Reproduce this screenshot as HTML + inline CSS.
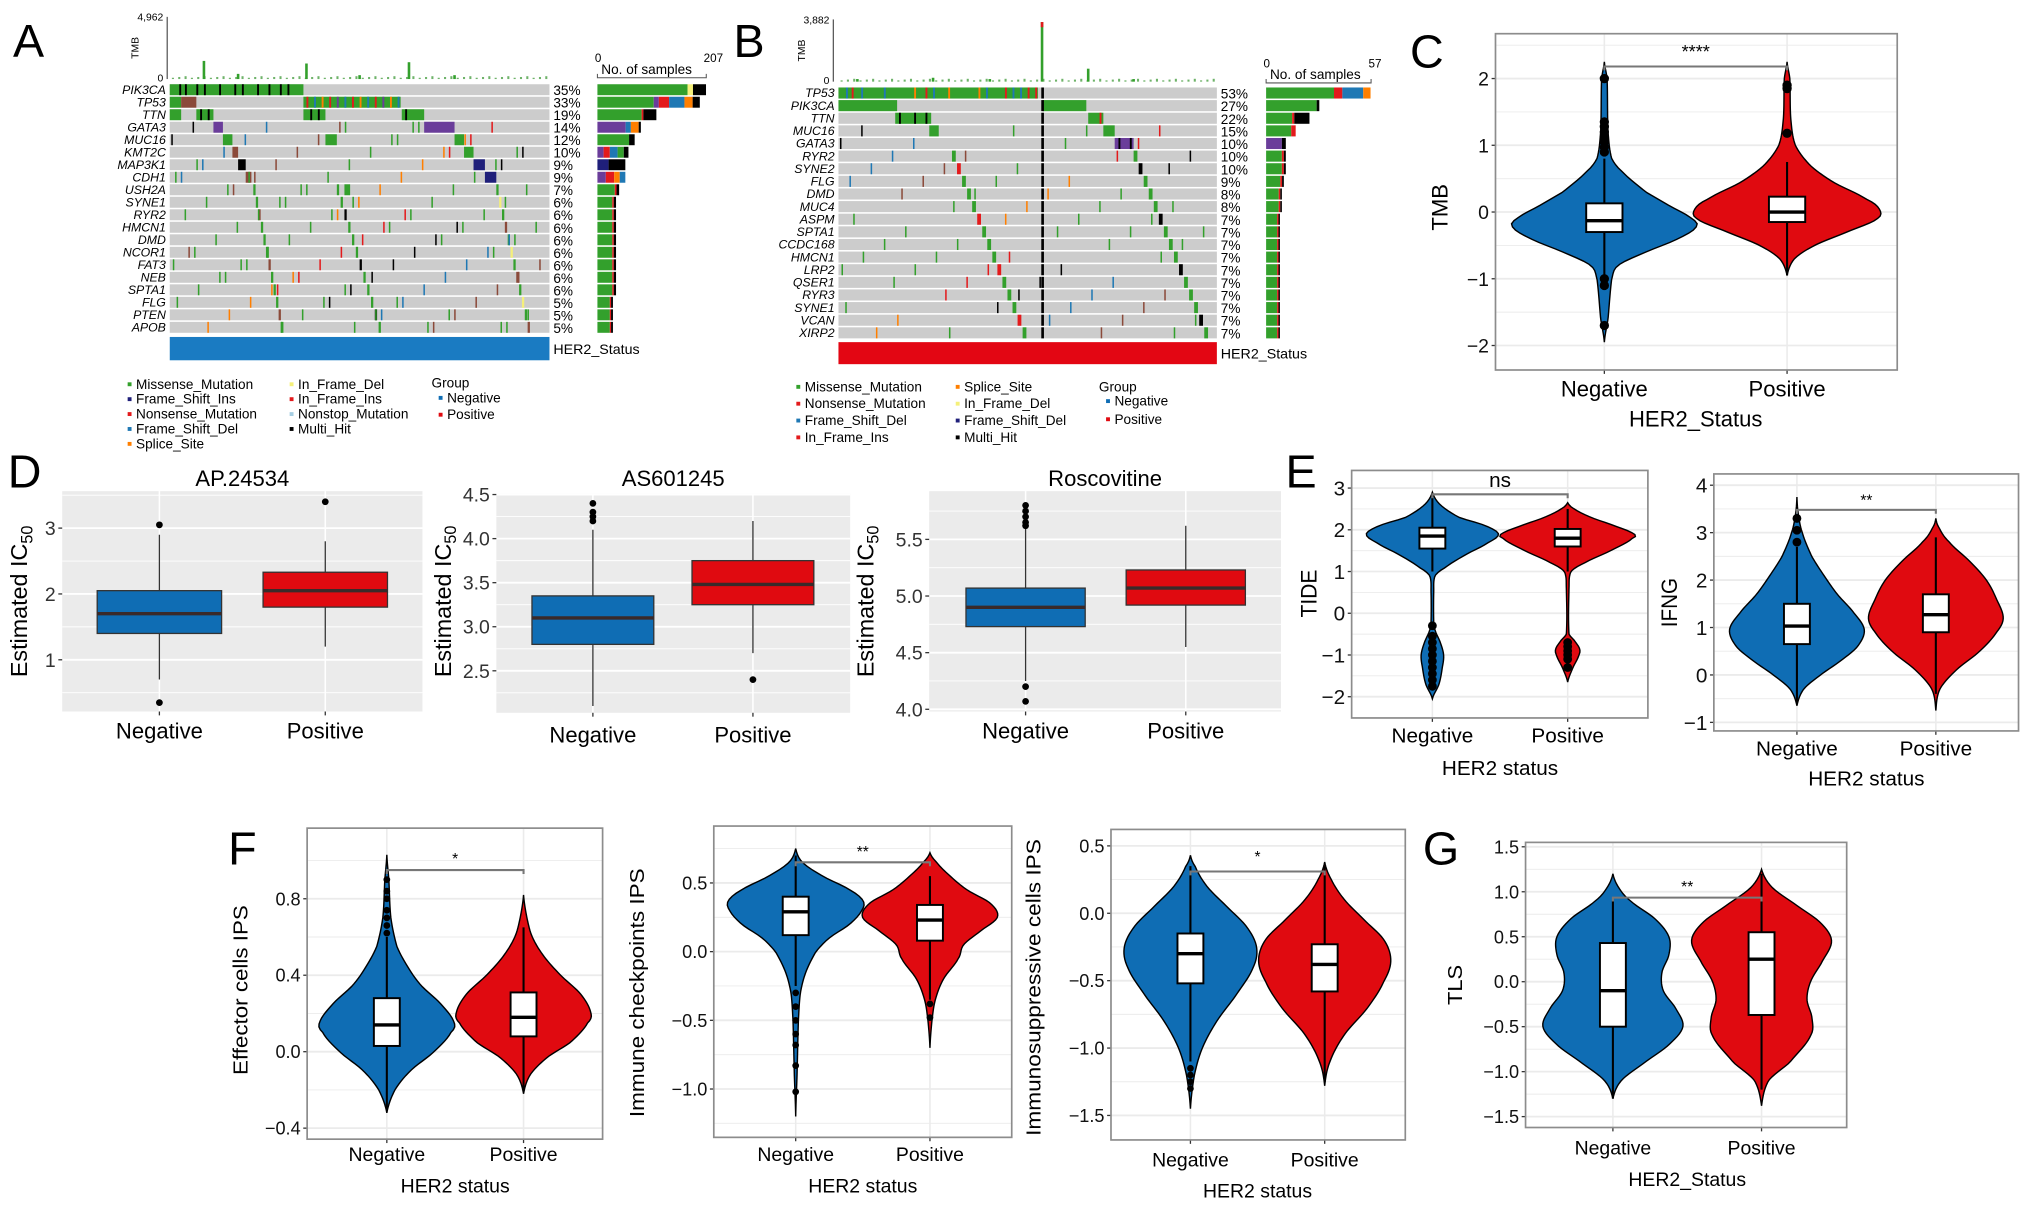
<!DOCTYPE html>
<html><head><meta charset="utf-8"><title>HER2 figure</title>
<style>
html,body{margin:0;padding:0;background:#fff;}
svg{display:block;font-family:"Liberation Sans",Arial,sans-serif;}
</style></head>
<body>
<svg id="fig" width="2032" height="1212" viewBox="0 0 1568 935.2" preserveAspectRatio="none" xmlns="http://www.w3.org/2000/svg"></svg>
<script>
// ---------- DATA ----------
const groups = ["Negative","Positive"];
// Panel A oncoplot
const aGenes = ["PIK3CA","TP53","TTN","GATA3","MUC16","KMT2C","MAP3K1","CDH1","USH2A","SYNE1","RYR2","HMCN1","DMD","NCOR1","FAT3","NEB","SPTA1","FLG","PTEN","APOB"];
const aPct = [35,33,19,14,12,10,9,9,7,6,6,6,6,6,6,6,6,5,5,5];
const aMaxSamples = 207;
const aTmbSpikes = [[0.09,14],[0.36,12],[0.63,13],[0.18,4],[0.5,3],[0.75,3]];
// Panel B oncoplot
const bGenes = ["TP53","PIK3CA","TTN","MUC16","GATA3","RYR2","SYNE2","FLG","DMD","MUC4","ASPM","SPTA1","CCDC168","HMCN1","LRP2","QSER1","RYR3","SYNE1","VCAN","XIRP2"];
const bPct = [53,27,22,15,10,10,10,9,8,8,7,7,7,7,7,7,7,7,7,7];
const bMaxSamples = 57;
const bTmbSpikes = [[0.538,46],[0.66,10],[0.05,2],[0.25,3],[0.4,2],[0.78,2]];
// Panel C TMB
const cNegDens = [[-1.95,0],[-1.6,0.04],[-1.0,0.08],[-0.8,0.15],[-0.6,0.45],[-0.4,0.8],[-0.22,1.0],[-0.1,0.95],[0.1,0.7],[0.3,0.45],[0.6,0.2],[0.8,0.08],[1.2,0.04],[2.0,0.03],[2.25,0]];
const cPosDens = [[-0.95,0],[-0.7,0.08],[-0.5,0.3],[-0.3,0.65],[-0.1,0.98],[0.05,1.0],[0.2,0.85],[0.45,0.5],[0.7,0.25],[1.0,0.09],[1.4,0.04],[2.0,0.03],[2.25,0]];
const cNegBox = [-1.0,-0.3,-0.13,0.13,0.8];
const cPosBox = [-0.95,-0.15,0.0,0.23,0.75];
const cNegOut = [2.0,1.35,1.28,1.2,1.12,1.05,0.97,0.9,-1.0,-1.1,-1.7];
const cPosOut = [1.9,1.85,1.18];
const cTicks = [-2,-1,0,1,2];
// Panel D boxplots: [lowWhisker,q1,median,q3,highWhisker]
const d1Neg = [0.7,1.4,1.7,2.05,2.9], d1Pos = [1.2,1.8,2.05,2.33,2.8];
const d1NegOut = [3.05,0.35], d1PosOut = [3.4];
const d1Ticks = [1,2,3];
const d2Neg = [2.1,2.8,3.1,3.35,4.1], d2Pos = [2.7,3.25,3.48,3.75,4.2];
const d2NegOut = [4.2,4.25,4.3,4.4], d2PosOut = [2.4];
const d2Ticks = [2.5,3.0,3.5,4.0,4.5];
const d3Neg = [4.25,4.73,4.9,5.07,5.6], d3Pos = [4.55,4.92,5.07,5.23,5.62];
const d3NegOut = [5.62,5.65,5.7,5.75,5.8,4.2,4.07], d3PosOut = [];
const d3Ticks = [4.0,4.5,5.0,5.5];
// Panel E TIDE / IFNG
const e1NegDens = [[-2.05,0],[-1.7,0.1],[-1.3,0.15],[-1.0,0.17],[-0.7,0.12],[-0.4,0.04],[-0.2,0.02],[0.5,0.02],[0.9,0.04],[1.1,0.2],[1.4,0.5],[1.7,0.85],[1.9,1.0],[2.1,0.8],[2.3,0.4],[2.6,0.12],[2.9,0]];
const e1PosDens = [[-1.65,0],[-1.3,0.08],[-1.0,0.17],[-0.85,0.18],[-0.65,0.1],[-0.5,0.02],[0.6,0.02],[1.0,0.05],[1.2,0.25],[1.5,0.65],[1.8,0.98],[1.9,1.0],[2.1,0.7],[2.3,0.35],[2.5,0.1],[2.65,0]];
const e1NegBox = [1.0,1.55,1.85,2.05,2.8], e1PosBox = [1.0,1.6,1.8,2.02,2.5];
const e1NegOut = [-0.3,-0.55,-0.7,-0.85,-1.0,-1.15,-1.3,-1.45,-1.6,-1.75];
const e1PosOut = [-0.7,-0.8,-0.9,-1.0,-1.1,-1.3];
const e1Ticks = [-2,-1,0,1,2,3];
const e2NegDens = [[-0.65,0],[-0.3,0.1],[0.0,0.35],[0.3,0.65],[0.6,0.9],[0.95,1.0],[1.3,0.85],[1.7,0.6],[2.1,0.4],[2.5,0.22],[3.0,0.08],[3.4,0.02],[3.75,0]];
const e2PosDens = [[-0.75,0],[-0.3,0.06],[0.1,0.3],[0.5,0.65],[0.9,0.9],[1.2,1.0],[1.6,0.9],[2.0,0.75],[2.4,0.5],[2.8,0.2],[3.1,0.05],[3.3,0]];
const e2NegBox = [-0.6,0.65,1.03,1.5,2.7], e2PosBox = [-0.4,0.9,1.27,1.7,2.9];
const e2NegOut = [2.8,3.05,3.3], e2PosOut = [];
const e2Ticks = [-1,0,1,2,3,4];
// Panel F IPS
const f1NegDens = [[-0.32,0],[-0.2,0.12],[-0.1,0.35],[0.0,0.7],[0.1,0.95],[0.15,1.0],[0.25,0.8],[0.35,0.5],[0.45,0.3],[0.55,0.15],[0.7,0.06],[0.9,0.03],[1.03,0]];
const f1PosDens = [[-0.22,0],[-0.12,0.1],[-0.03,0.35],[0.05,0.7],[0.15,0.95],[0.2,1.0],[0.3,0.85],[0.4,0.55],[0.5,0.3],[0.6,0.13],[0.7,0.05],[0.82,0]];
const f1NegBox = [-0.3,0.03,0.14,0.28,0.6], f1PosBox = [-0.2,0.08,0.18,0.31,0.65];
const f1NegOut = [0.62,0.66,0.7,0.74,0.8,0.84,0.9], f1PosOut = [];
const f1Ticks = [-0.4,0.0,0.4,0.8];
const f2NegDens = [[-1.2,0],[-0.9,0.02],[-0.5,0.04],[-0.3,0.07],[-0.15,0.15],[0.0,0.3],[0.1,0.5],[0.2,0.8],[0.3,0.98],[0.37,1.0],[0.45,0.8],[0.55,0.4],[0.65,0.1],[0.75,0]];
const f2PosDens = [[-0.7,0],[-0.5,0.03],[-0.35,0.08],[-0.2,0.2],[-0.05,0.42],[0.05,0.5],[0.15,0.75],[0.25,1.0],[0.35,0.9],[0.45,0.55],[0.55,0.3],[0.65,0.1],[0.72,0]];
const f2NegBox = [-0.25,0.12,0.29,0.4,0.7], f2PosBox = [-0.35,0.08,0.23,0.34,0.55];
const f2NegOut = [-0.3,-0.4,-0.5,-0.6,-0.68,-0.83,-1.02], f2PosOut = [-0.38,-0.48];
const f2Ticks = [-1.0,-0.5,0.0,0.5];
const f3NegDens = [[-1.45,0],[-1.2,0.06],[-1.0,0.18],[-0.8,0.4],[-0.6,0.7],[-0.4,0.95],[-0.25,1.0],[-0.1,0.85],[0.05,0.55],[0.2,0.25],[0.35,0.07],[0.43,0]];
const f3PosDens = [[-1.28,0],[-1.1,0.08],[-0.9,0.3],[-0.7,0.65],[-0.5,0.9],[-0.35,1.0],[-0.2,0.9],[-0.05,0.6],[0.1,0.3],[0.25,0.1],[0.38,0]];
const f3NegBox = [-1.1,-0.52,-0.3,-0.15,0.35], f3PosBox = [-1.25,-0.58,-0.38,-0.23,0.35];
const f3NegOut = [-1.15,-1.2,-1.25,-1.3], f3PosOut = [];
const f3Ticks = [-1.5,-1.0,-0.5,0.0,0.5];
// Panel G TLS
const gNegDens = [[-1.3,0],[-1.1,0.12],[-0.9,0.45],[-0.7,0.8],[-0.5,1.0],[-0.3,0.9],[-0.1,0.72],[0.1,0.7],[0.3,0.8],[0.5,0.8],[0.7,0.6],[0.9,0.25],[1.05,0.08],[1.2,0]];
const gPosDens = [[-1.38,0],[-1.1,0.1],[-0.9,0.4],[-0.6,0.7],[-0.4,0.72],[-0.2,0.65],[0.0,0.7],[0.2,0.85],[0.45,1.0],[0.65,0.85],[0.85,0.5],[1.05,0.15],[1.25,0]];
const gNegBox = [-1.3,-0.5,-0.1,0.43,0.9], gPosBox = [-1.2,-0.37,0.25,0.55,1.2];
const gTicks = [-1.5,-1.0,-0.5,0.0,0.5,1.0,1.5];

// ---------- HELPERS ----------
const NS = "http://www.w3.org/2000/svg";
const svg = document.getElementById("fig");
const BLUE = "#0f6db4", RED = "#e00a10";
const MC = {g:"#33a02c",r:"#e31a1c",b:"#1f78b4",o:"#ff7f00",p:"#6a3d9a",k:"#000000",y:"#f5f07a",n:"#1f1f7a",l:"#a6cee3",w:"#8b4a3a"};
function el(tag, attrs, parent){
  const e = document.createElementNS(NS, tag);
  for (const k in attrs) e.setAttribute(k, attrs[k]);
  (parent || svg).appendChild(e);
  return e;
}
function txt(s, x, y, size, parent, extra){
  const a = {x:x, y:y, "font-size":size, fill:"#000"};
  if (extra) for (const k in extra) a[k] = extra[k];
  const t = el("text", a, parent);
  t.textContent = s;
  return t;
}
function fmt(v, dec){ const s = v.toFixed(dec); return v < 0 ? "\u2212" + s.slice(1) : s; }

// density interpolation (Catmull-Rom on knots)
function densAt(knots, v){
  for (let i = 0; i < knots.length - 1; i++){
    const a = knots[i], b = knots[i+1];
    if (v >= a[0] && v <= b[0]){
      const p0 = knots[Math.max(0,i-1)][1], p1 = a[1], p2 = b[1], p3 = knots[Math.min(knots.length-1,i+2)][1];
      const t = (v - a[0]) / (b[0] - a[0]);
      const r = 0.5*((2*p1)+(-p0+p2)*t+(2*p0-5*p1+4*p2-p3)*t*t+(-p0+3*p1-3*p2+p3)*t*t*t);
      return Math.max(0, r);
    }
  }
  return 0;
}

// ---------- VIOLIN / BOX PANEL ----------
function panel(cfg){
  const g = el("g", {});
  
  
  const [x0,y0,x1,y1] = cfg.frame;
  const Y = v => cfg.zeroY - (v - cfg.zeroV) * cfg.unit;
  const X = i => cfg.xs[i];
  const bg = el("rect", {x:x0, y:y0, width:x1-x0, height:y1-y0, fill: cfg.gray ? "#ebebeb" : "#fff"}, g);
  
  
  const gridCol = cfg.gray ? "#fff" : "#ebebeb";
  const ticks = cfg.ticks;
  const step = ticks[1] - ticks[0];
  for (let k = -1; k < ticks.length; k++){
    const mv = (k < 0 ? ticks[0] : ticks[k]) + (k < 0 ? -step/2 : step/2);
    const my = Y(mv);
    if (my > y0 && my < y1){
      const ml = el("line", {x1:x0, x2:x1, y1:my, y2:my, stroke:gridCol, "stroke-width":0.7}, g);
      
      
    }
  }
  ticks.forEach(t => {
    const ty = Y(t);
    const gl = el("line", {x1:x0, x2:x1, y1:ty, y2:ty, stroke:gridCol, "stroke-width":1.4}, g);
    
    
    const tk = el("line", {x1:x0-3, x2:x0, y1:ty, y2:ty, stroke:"#333", "stroke-width":1}, g);
    
    
    const tl = txt(fmt(t, cfg.dec), x0-5, ty + cfg.tickSize*0.36, cfg.tickSize, g, {"text-anchor":"end", fill: cfg.gray ? "#333" : "#111"});
    
    
  });
  groups.forEach((gname, i) => {
    const vl = el("line", {x1:X(i), x2:X(i), y1:y0, y2:y1, stroke:gridCol, "stroke-width":1.2}, g);
    
    
    const tk = el("line", {x1:X(i), x2:X(i), y1:y1, y2:y1+3, stroke:"#333", "stroke-width":1}, g);
    
    
    const xl = txt(gname, X(i), cfg.xLabY, cfg.labSize, g, {"text-anchor":"middle"});
    
    
  });
  if (!cfg.gray){
    const fr = el("rect", {x:x0, y:y0, width:x1-x0, height:y1-y0, fill:"none", stroke:"#8c8c8c", "stroke-width":1.3}, g);
    
    
  }
  const cols = [BLUE, RED];
  cfg.series.forEach((s, i) => {
    const cx = X(i);
    const sg = el("g", {}, g);
    
    
    if (s.dens){
      const lo = s.dens[0][0], hi = s.dens[s.dens.length-1][0];
      const N = 90, right = [], left = [];
      for (let k = 0; k <= N; k++){
        const v = lo + (hi - lo) * k / N;
        const w = densAt(s.dens, v) * cfg.maxHW;
        right.push([cx + w, Y(v)]);
        left.push([cx - w, Y(v)]);
      }
      const pts = right.concat(left.reverse());
      const d = "M" + pts.map(p => p[0].toFixed(2) + "," + p[1].toFixed(2)).join("L") + "Z";
      const vp = el("path", {d:d, fill:cols[i], stroke:"#000", "stroke-width":1.1}, sg);
      
      
    }
    const b = s.box;
    const wl = el("line", {x1:cx, x2:cx, y1:Y(b[0]), y2:Y(b[4]), stroke: cfg.gray ? "#333" : "#000", "stroke-width": cfg.gray ? 1 : 1.6}, sg);
    
    
    const bx = el("rect", {x:cx-cfg.boxHW, y:Y(b[3]), width:2*cfg.boxHW, height:Y(b[1])-Y(b[3]), fill: cfg.gray ? cols[i] : "#fff", stroke: cfg.gray ? "#333" : "#000", "stroke-width": cfg.gray ? 1 : 1.5}, sg);
    
    
    const md = el("line", {x1:cx-cfg.boxHW, x2:cx+cfg.boxHW, y1:Y(b[2]), y2:Y(b[2]), stroke: cfg.gray ? "#3a2a2a" : "#000", "stroke-width": 2.6}, sg);
    
    
    (s.out || []).forEach(v => {
      const c = el("circle", {cx:cx, cy:Y(v), r:cfg.dotR, fill:"#000"}, sg);
      
      
    });
  });
  if (cfg.sig){
    const by = Y(cfg.sig[0]);
    const br = el("path", {d:`M${X(0)},${by+3}L${X(0)},${by}L${X(1)},${by}L${X(1)},${by+3}`, fill:"none", stroke:"#777", "stroke-width":1.6}, g);
    
    
    const st = txt(cfg.sig[2], (X(0)+X(1))/2, Y(cfg.sig[1]) + cfg.sig[3]*0.35, cfg.sig[3], g, {"text-anchor":"middle"});
    
    
  }
  if (cfg.title){
    const tt = txt(cfg.title, (x0+x1)/2, cfg.titleY, 17, g, {"text-anchor":"middle"});
    
    
  }
  if (cfg.xTitle){
    const xt = txt(cfg.xTitle, (X(0)+X(1))/2, cfg.xTitleY, cfg.labSize, g, {"text-anchor":"middle"});
    
    
  }
  const yt = el("text", {x:0, y:0, "font-size":cfg.yTitleSize, "text-anchor":"middle", transform:`translate(${cfg.yTitle[1]},${cfg.yTitle[2]}) rotate(-90)`, textLength:cfg.yTitle[3], lengthAdjust:"spacingAndGlyphs"}, g);
  
  
  if (cfg.ic50){
    yt.removeAttribute("textLength");
    yt.textContent = "Estimated IC";
    const sub = el("tspan", {"font-size":cfg.yTitleSize*0.7, dy:4}, yt);
    sub.textContent = "50";
  } else {
    yt.textContent = cfg.yTitle[0];
  }
  return g;
}

// ---------- ONCOPLOT ----------
function oncoplot(cfg){
  const g = el("g", {});
  
  
  const gx0 = cfg.gx0, gw = cfg.gw, top = cfg.top, pitch = cfg.pitch, rh = pitch - 1.2;
  const FX = f => gx0 + f * gw;
  // TMB axis
  const ax = el("line", {x1:cfg.axX, x2:cfg.axX, y1:cfg.axTop, y2:cfg.axBot, stroke:"#333", "stroke-width":0.8}, g);
  
  
  const tm = txt(cfg.tmbMax, cfg.axX-3, cfg.axTop+3, 8, g, {"text-anchor":"end"});
  
  
  const tz = txt("0", cfg.axX-3, cfg.axBot+2, 8, g, {"text-anchor":"end"});
  
  
  const tl = txt("TMB", 0, 0, 8, g, {"text-anchor":"middle", transform:`translate(${cfg.axX-22},${(cfg.axTop+cfg.axBot)/2}) rotate(-90)`});
  
  
  for (let k = 0; k < 60; k++){
    const f = (k + 0.5) / 60, h = 1 + ((k * 7) % 3) * 0.6;
    const tb = el("rect", {x:FX(f)-0.8, y:cfg.axBot-h, width:1.6, height:h, fill:"#6fb36a"}, g);
    
    
  }
  cfg.spikes.forEach(s => {
    const sp = el("rect", {x:FX(s[0])-1, y:cfg.axBot-s[1], width:2, height:s[1], fill:MC.g}, g);
    
    
  });
  if (cfg.redTop){
    const s = cfg.spikes[0];
    const rt = el("rect", {x:FX(s[0])-1, y:cfg.axBot-s[1], width:2, height:4, fill:MC.r}, g);
    
    
  }
  // grid rows
  cfg.genes.forEach((gene, i) => {
    const ry = top + i * pitch;
    const row = el("rect", {x:gx0, y:ry, width:gw, height:rh, fill:"#cccccc"}, g);
    
    
    const gl = txt(gene, gx0-3, ry + rh - 1, 9.5, g, {"text-anchor":"end", "font-style":"italic"});
    
    
    const pl = txt(cfg.pct[i] + "%", gx0 + gw + 3, ry + rh, 10.5, g, {});
    
    
    // side bar
    const count = cfg.pct[i] / 100 * cfg.nSamples;
    const len = count / cfg.maxS * cfg.barW;
    const segs = cfg.barSegs[i] || cfg.barSegs.default;
    let bx = cfg.barX;
    segs.forEach(sg => {
      const w = sg[1] * len;
      const r = el("rect", {x:bx, y:ry, width:w, height:rh, fill:MC[sg[0]]}, g);
      
      
      bx += w;
    });
  });
  const cell = (gi, f0, f1, c, nm) => {
    const r = el("rect", {x:FX(f0), y:top + gi*pitch, width:Math.max(0.9, (f1-f0)*gw), height:rh, fill:MC[c]}, g);
    
    
  };
  cfg.blocks.forEach(b => cell(b[0], b[1], b[2], b[3], "mutation-block"));
  (cfg.multi || []).forEach(s => cell(s[0], s[1], s[1] + 0.005, s[2], "mutation-stripe"));
  // waterfall stripes for lower genes
  cfg.falls.forEach(fl => {
    const n = cfg.genes.length - fl.start;
    for (let gi = fl.start; gi < cfg.genes.length; gi++){
      const f = fl.f0 + (fl.f1 - fl.f0) * (gi - fl.start) / n;
      cell(gi, f, f + fl.w, fl.c[gi % fl.c.length], "mutation-stripe");
    }
  });
  // scattered thin stripes
  for (let gi = cfg.scatterFrom; gi < cfg.genes.length; gi++){
    for (let k = 0; k < cfg.scatterN; k++){
      const f = ((gi * 0.137 + k * 0.193 + 0.05) % 0.98);
      const c = "gggggrkbwgo"[(gi + k) % 11];
      cell(gi, f, f + 0.004, c, "mutation-stripe");
    }
  }
  if (cfg.blackCol !== undefined){
    cfg.genes.forEach((gene, gi) => cell(gi, cfg.blackCol, cfg.blackCol + 0.007, "k", "mutation-stripe"));
  }
  // HER2 status bar
  const hb = el("rect", {x:gx0, y:cfg.herY, width:gw, height:cfg.herH, fill:cfg.herColor}, g);
  
  
  const hl = txt("HER2_Status", gx0 + gw + 3, cfg.herY + cfg.herH/2 + 4, 11, g, {});
  
  
  // bar axis
  const ba = el("path", {d:`M${cfg.barX},${cfg.bracketY-3}L${cfg.barX},${cfg.bracketY}L${cfg.barX+cfg.barW},${cfg.bracketY}L${cfg.barX+cfg.barW},${cfg.bracketY-3}`, fill:"none", stroke:"#555", "stroke-width":0.8}, g);
  
  
  const z = txt("0", cfg.barX-2, cfg.bracketY-12, 9, g, {});
  
  
  const mx = txt(String(cfg.maxS), cfg.barX+cfg.barW-2, cfg.bracketY-12, 9, g, {});
  
  
  const ns = txt("No. of samples", cfg.barX+3, cfg.bracketY-3, 10.5, g, {});
  
  
  // legend
  cfg.legend.forEach(it => {
    if (it[3]){
      const d = el("rect", {x:it[1]-1.5, y:it[2]-5, width:3, height:3, fill:it[3]}, g);
      
      
    }
    const t = txt(it[0], it[1] + (it[3] ? 5 : 0), it[2], 10.5, g, {});
    
    
  });
}

// ---------- BUILD ----------
function letter(s, x, y){
  const t = txt(s, x, y, 36, svg, {});
  
  
}
letter("A", 10, 44); letter("B", 566, 44); letter("C", 1088, 52);
letter("D", 6, 376); letter("E", 992, 376); letter("F", 176, 667); letter("G", 1098, 667);

oncoplot({name:"panel-a-oncoplot", gx0:131, gw:293, top:65, pitch:9.65, axX:129, axTop:13, axBot:61, tmbMax:"4,962",
  spikes:aTmbSpikes, genes:aGenes, pct:aPct, nSamples:590, maxS:aMaxSamples, barX:461, barW:84, bracketY:60,
  barSegs:{0:[["g",.83],["y",.05],["k",.12]],1:[["g",.55],["p",.05],["r",.1],["b",.15],["o",.08],["k",.07]],2:[["g",.75],["r",.03],["k",.22]],3:[["p",.65],["b",.12],["o",.18],["k",.05]],4:[["g",.85],["k",.15]],5:[["p",.2],["r",.2],["b",.25],["g",.2],["k",.15]],6:[["n",.4],["k",.6]],7:[["p",.3],["r",.3],["o",.2],["b",.2]],default:[["g",.8],["r",.08],["k",.12]]},
  blocks:[[0,0,0.352,"g"],[1,0,0.03,"g"],[1,0.03,0.07,"w"],[1,0.352,0.608,"g"],[2,0,0.03,"g"],[2,0.07,0.115,"g"],[2,0.352,0.41,"g"],[2,0.611,0.67,"g"],
    [3,0.115,0.14,"p"],[3,0.67,0.75,"p"],[4,0.14,0.165,"g"],[4,0.41,0.44,"g"],[4,0.75,0.775,"g"],[5,0.165,0.18,"w"],[5,0.775,0.8,"g"],
    [6,0.18,0.2,"k"],[6,0.8,0.83,"n"],[7,0.2,0.215,"w"],[7,0.83,0.86,"n"],[8,0.46,0.475,"g"]],
  multi:[[0,0.025,"k"],[0,0.04,"k"],[0,0.07,"k"],[0,0.09,"k"],[0,0.13,"k"],[0,0.17,"k"],[0,0.19,"k"],[0,0.23,"k"],[0,0.26,"k"],[0,0.29,"k"],[0,0.31,"k"],
    [1,0.36,"r"],[1,0.38,"b"],[1,0.40,"o"],[1,0.42,"r"],[1,0.44,"p"],[1,0.46,"b"],[1,0.48,"r"],[1,0.50,"o"],[1,0.52,"b"],[1,0.54,"r"],[1,0.56,"p"],[1,0.58,"o"],[1,0.60,"b"],
    [2,0.08,"k"],[2,0.1,"k"],[2,0.37,"k"],[2,0.39,"k"],[2,0.62,"k"]],
  falls:[{start:8,f0:0.22,f1:0.30,w:0.006,c:["g","g","w","g"]},{start:8,f0:0.44,f1:0.56,w:0.006,c:["g","g","k","g"]},{start:8,f0:0.86,f1:0.95,w:0.006,c:["g","y","g","w"]}],
  scatterFrom:3, scatterN:7,
  herY:260, herH:18, herColor:"#1a7bc2",
  legend:[["Missense_Mutation",100,300,MC.g],["Frame_Shift_Ins",100,311.5,MC.n],["Nonsense_Mutation",100,323,MC.r],["Frame_Shift_Del",100,334.5,MC.b],["Splice_Site",100,346,MC.o],
    ["In_Frame_Del",225,300,MC.y],["In_Frame_Ins",225,311.5,MC.r],["Nonstop_Mutation",225,323,MC.l],["Multi_Hit",225,334.5,MC.k],
    ["Group",333,299,null],["Negative",340,310.5,BLUE],["Positive",340,323.5,RED]]
});

oncoplot({name:"panel-b-oncoplot", gx0:647, gw:292, top:67.5, pitch:9.74, axX:643, axTop:15, axBot:63, tmbMax:"3,882",
  spikes:bTmbSpikes, redTop:true, genes:bGenes, pct:bPct, nSamples:107, maxS:bMaxSamples, barX:977, barW:81, bracketY:64,
  barSegs:{0:[["g",.65],["r",.08],["b",.2],["o",.07]],1:[["g",.95],["k",.05]],2:[["g",.6],["r",.05],["k",.35]],3:[["g",.85],["r",.15]],4:[["p",.8],["k",.2]],default:[["g",.8],["r",.1],["k",.1]]},
  blocks:[[0,0,0.527,"g"],[1,0,0.155,"g"],[1,0.54,0.655,"g"],[2,0.15,0.245,"g"],[2,0.66,0.70,"g"],[3,0.24,0.265,"g"],[3,0.70,0.73,"g"],[4,0.73,0.78,"p"]],
  multi:[[0,0.02,"b"],[0,0.035,"r"],[0,0.06,"b"],[0,0.12,"b"],[0,0.2,"o"],[0,0.23,"r"],[0,0.25,"b"],[0,0.29,"o"],[0,0.37,"o"],[0,0.39,"b"],[0,0.44,"r"],[0,0.46,"b"],[0,0.48,"b"],[0,0.5,"r"],[0,0.52,"r"],
    [2,0.16,"k"],[2,0.2,"k"],[2,0.23,"k"],[2,0.69,"r"],[4,0.74,"k"],[4,0.77,"k"]],
  falls:[{start:5,f0:0.30,f1:0.50,w:0.01,c:["g","g","r","g"]},{start:5,f0:0.78,f1:0.98,w:0.01,c:["g","g","k","g"]}],
  scatterFrom:3, scatterN:4, blackCol:0.536,
  herY:264, herH:17, herColor:"#e30613",
  legend:[["Missense_Mutation",616,302,MC.g],["Nonsense_Mutation",616,315,MC.r],["Frame_Shift_Del",616,328,MC.b],["In_Frame_Ins",616,341,MC.r],
    ["Splice_Site",739,302,MC.o],["In_Frame_Del",739,315,MC.y],["Frame_Shift_Del",739,328,MC.n],["Multi_Hit",739,341,MC.k],
    ["Group",848,302,null],["Negative",855,313,BLUE],["Positive",855,327,RED]]
});

// Panel C
panel({name:"panel-c-tmb-violin", frame:[1154,26,1464,285.5], zeroV:0, zeroY:163.6, unit:51.5, ticks:cTicks, dec:0, tickSize:15,
  xs:[1238,1379], maxHW:71, boxHW:14, dotR:3.6, labSize:17, xLabY:306, xTitle:"HER2_Status", xTitleY:329,
  yTitle:["TMB",1117,160,36], yTitleSize:17, sig:[2.18,2.4,"****",14],
  series:[{dens:cNegDens, box:cNegBox, out:cNegOut},{dens:cPosDens, box:cPosBox, out:cPosOut}]});

// Panel D
panel({name:"panel-d-ap24534", gray:true, frame:[48,379,326,549], zeroV:2, zeroY:458.3, unit:50.8, ticks:d1Ticks, dec:0, tickSize:15,
  xs:[123,251], boxHW:48, dotR:2.6, labSize:17, xLabY:570, title:"AP.24534", titleY:375, ic50:true,
  yTitle:["Estimated IC50",21,464,0], yTitleSize:18,
  series:[{box:d1Neg, out:d1NegOut},{box:d1Pos, out:d1PosOut}]});
panel({name:"panel-d-as601245", gray:true, frame:[383,381,656,550], zeroV:3, zeroY:483.6, unit:68, ticks:d2Ticks, dec:1, tickSize:15,
  xs:[457.5,581], boxHW:47, dotR:2.6, labSize:17, xLabY:573, title:"AS601245", titleY:375, ic50:true,
  yTitle:["Estimated IC50",348,464,0], yTitleSize:18,
  series:[{box:d2Neg, out:d2NegOut},{box:d2Pos, out:d2PosOut}]});
panel({name:"panel-d-roscovitine", gray:true, frame:[717,379,988.5,549], zeroV:5, zeroY:459.9, unit:87.4, ticks:d3Ticks, dec:1, tickSize:15,
  xs:[791.4,915], boxHW:46, dotR:2.6, labSize:17, xLabY:570, title:"Roscovitine", titleY:375, ic50:true,
  yTitle:["Estimated IC50",674,464,0], yTitleSize:18,
  series:[{box:d3Neg, out:d3NegOut},{box:d3Pos, out:d3PosOut}]});

// Panel E
panel({name:"panel-e-tide", frame:[1043,363,1271.6,554], zeroV:0, zeroY:473.2, unit:32.2, ticks:e1Ticks, dec:0, tickSize:16,
  xs:[1105.3,1209.7], maxHW:51, boxHW:10, dotR:3.4, labSize:16, xLabY:573, xTitle:"HER2 status", xTitleY:598,
  yTitle:["TIDE",1016,458,37], yTitleSize:17, sig:[2.85,3.2,"ns",16],
  series:[{dens:e1NegDens, box:e1NegBox, out:e1NegOut},{dens:e1PosDens, box:e1PosBox, out:e1PosOut}]});
panel({name:"panel-e-ifng", frame:[1322.5,365.7,1557.6,564], zeroV:0, zeroY:520.8, unit:36.6, ticks:e2Ticks, dec:0, tickSize:16,
  xs:[1386.6,1493.8], maxHW:52, boxHW:10, dotR:3.4, labSize:16, xLabY:583, xTitle:"HER2 status", xTitleY:606,
  yTitle:["IFNG",1294,465,38], yTitleSize:17, sig:[3.48,3.69,"**",12],
  series:[{dens:e2NegDens, box:e2NegBox, out:e2NegOut},{dens:e2PosDens, box:e2PosBox, out:e2PosOut}]});

// Panel F
panel({name:"panel-f-effector-cells", frame:[237,639,465,879], zeroV:0, zeroY:811.5, unit:147.5, ticks:f1Ticks, dec:1, tickSize:14,
  xs:[298.5,404], maxHW:52, boxHW:10, dotR:2.6, labSize:15, xLabY:896, xTitle:"HER2 status", xTitleY:920,
  yTitle:["Effector cells IPS",191,764,131], yTitleSize:16, sig:[0.95,1.01,"*",12],
  series:[{dens:f1NegDens, box:f1NegBox, out:f1NegOut},{dens:f1PosDens, box:f1PosBox, out:f1PosOut}]});
panel({name:"panel-f-immune-checkpoints", frame:[550.8,637.4,780.7,877.6], zeroV:0, zeroY:734.3, unit:106, ticks:f2Ticks, dec:1, tickSize:14,
  xs:[614,717.6], maxHW:52, boxHW:10, dotR:2.6, labSize:15, xLabY:896, xTitle:"HER2 status", xTitleY:920,
  yTitle:["Immune checkpoints IPS",497,766,192], yTitleSize:16, sig:[0.65,0.73,"**",12],
  series:[{dens:f2NegDens, box:f2NegBox, out:f2NegOut},{dens:f2PosDens, box:f2PosBox, out:f2PosOut}]});
panel({name:"panel-f-immunosuppressive-cells", frame:[857.3,640,1084.4,879.6], zeroV:0, zeroY:704.7, unit:104, ticks:f3Ticks, dec:1, tickSize:14,
  xs:[918.6,1022.2], maxHW:51, boxHW:10, dotR:2.6, labSize:15, xLabY:900, xTitle:"HER2 status", xTitleY:924,
  yTitle:["Immunosuppressive cells IPS",803,762,229], yTitleSize:16, sig:[0.31,0.42,"*",12],
  series:[{dens:f3NegDens, box:f3NegBox, out:f3NegOut},{dens:f3PosDens, box:f3PosBox, out:f3PosOut}]});

// Panel G
panel({name:"panel-g-tls", frame:[1177.2,650,1425,870], zeroV:0, zeroY:757.5, unit:69.4, ticks:gTicks, dec:1, tickSize:14,
  xs:[1244.6,1359.3], maxHW:54, boxHW:10, dotR:2.6, labSize:15, xLabY:891, xTitle:"HER2_Status", xTitleY:915,
  yTitle:["TLS",1128,760,31], yTitleSize:16, sig:[0.935,1.06,"**",12],
  series:[{dens:gNegDens, box:gNegBox, out:[]},{dens:gPosDens, box:gPosBox, out:[]}]});
</script>
</body></html>
